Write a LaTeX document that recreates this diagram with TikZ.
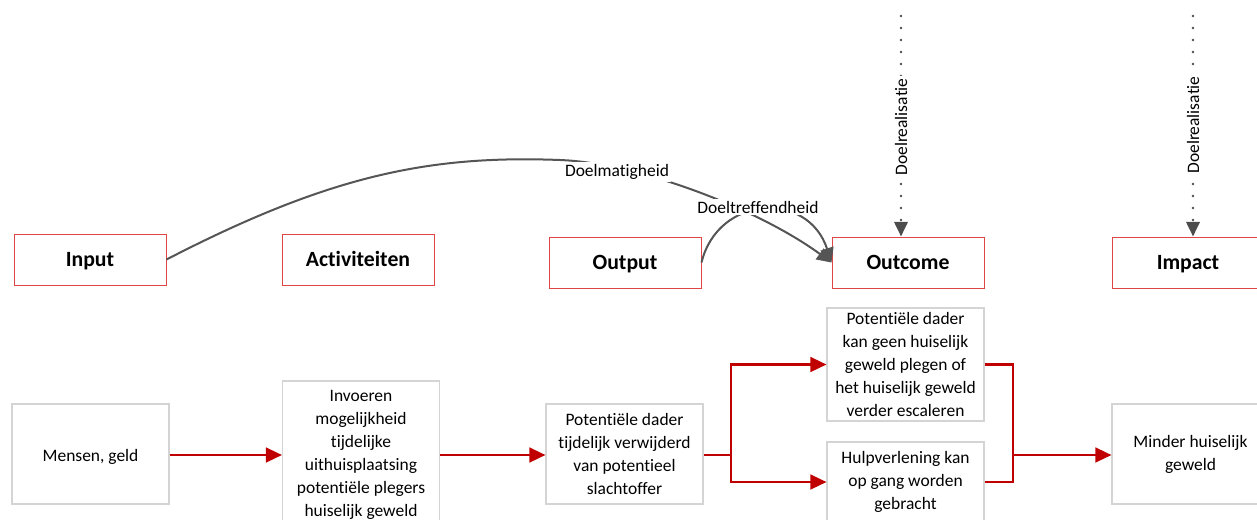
\documentclass[tikz,border=0pt]{standalone}
\usepackage{fontspec}
\setmainfont{Carlito}[RawFeature={-liga;-clig;-calt;-dlig;-rlig}]
\usetikzlibrary{arrows.meta,calc}
\definecolor{boxred}{HTML}{E04545}
\definecolor{boxgrey}{HTML}{D4D4D4}
\definecolor{linered}{HTML}{C00000}
\definecolor{curvegrey}{HTML}{555555}
\begin{document}
\begin{tikzpicture}[x=0.75pt,y=-0.75pt,
 titlebox/.style={draw=boxred,line width=0.75pt,minimum width=114pt,minimum height=38.25pt,inner sep=0pt,text height=10.5pt,text depth=0pt,font=\fontsize{16.3}{19}\selectfont\bfseries},
 stepbox/.style={draw=boxgrey,line width=0.8pt,minimum width=117.75pt,inner sep=0pt,align=center,font=\fontsize{13.1}{17.2}\selectfont},
 redarrow/.style={draw=linered,line width=1.8pt,-{Triangle[length=12pt,width=11pt]}},
 redline/.style={draw=linered,line width=1.8pt},
 greyarrow/.style={draw=curvegrey,line width=1.5pt,-{Triangle[length=11pt,width=10pt]}},
 dotarrow/.style={draw=curvegrey!90!black,line width=2pt,line cap=round,dash pattern=on 0pt off 9pt,-{Triangle[length=11pt,width=10pt]}},
 lbl/.style={fill=white,inner sep=1.5pt,font=\fontsize{13.1}{15}\selectfont}]
\useasboundingbox (0,0) rectangle (1257,519);

% top row
\node[titlebox] (input) at (90,259.5) {Input};
\node[titlebox] (activ) at (358,259.5) {Activiteiten};
\node[titlebox] (output) at (625,262.5) {Output};
\node[titlebox] (outcome) at (908,262.5) {Outcome};
\node[titlebox] (impact) at (1188,262.5) {Impact};

% bottom row
\node[stepbox,minimum height=75pt,text height=10.5pt,text depth=0pt] (mensen) at (90.5,454) {Mensen, geld};
\node[stepbox,minimum height=111pt] (invoeren) at (361,455) {Invoeren\\mogelijkheid\\tijdelijke\\uithuisplaatsing\\potentiële plegers\\huiselijk geweld};
\node[stepbox,minimum height=75pt] (tijdelijk) at (624.5,454) {Potentiële dader\\tijdelijk verwijderd\\van potentieel\\slachtoffer};
\node[stepbox,minimum height=84.75pt] (kangeen) at (905.5,364.5) {Potentiële dader\\kan geen huiselijk\\geweld plegen of\\het huiselijk geweld\\verder escaleren};
\node[stepbox,minimum height=60pt] (hulp) at (905.5,482) {Hulpverlening kan\\op gang worden\\gebracht};
\node[stepbox,minimum height=75pt] (minder) at (1190.5,454) {Minder huiselijk\\geweld};

% red connectors
\coordinate (split) at (731,455);
\coordinate (join) at (1013,455);
\draw[redarrow] (mensen.east |- split) -- (invoeren.west |- split);
\draw[redarrow] (invoeren.east |- split) -- (tijdelijk.west |- split);
\draw[redline] (tijdelijk.east |- split) -- (split);
\draw[redarrow] (split) |- (kangeen.west);
\draw[redarrow] (split) |- (hulp.west);
\draw[redline] (kangeen.east) -| (join);
\draw[redline] (hulp.east) -| (join);
\draw[redarrow] (join) -- (join -| minder.west);

% grey curves
\draw[greyarrow] (input.east) .. controls (330,175) and (430,155) .. (560,160) .. controls (640,163) and (760,210) .. (outcome.west);
\draw[greyarrow] (output.east) .. controls (718,195) and (808,190) .. (outcome.west);
\node[lbl] (doelmatig) at (617,172) {Doelmatigheid};
\node[lbl] (doeltref) at (758,207) {Doeltreffendheid};

% dotted
\coordinate (dtop1) at (901,16);
\coordinate (dtop2) at (1193,16);
\draw[dotarrow] (dtop1) -- (dtop1 |- outcome.north);
\draw[dotarrow] (dtop2) -- (dtop2 |- impact.north);
\node[lbl,rotate=90] (dr1) at (901,127) {Doelrealisatie};
\node[lbl,rotate=90] (dr2) at (1193,125) {Doelrealisatie};
\end{tikzpicture}
\end{document}
